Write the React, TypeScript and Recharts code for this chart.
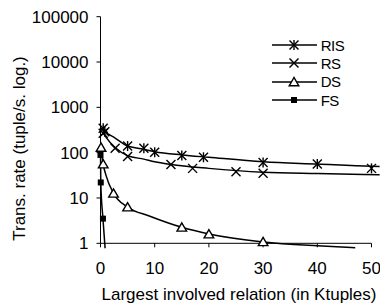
import React from 'react';
import { ComposedChart, Line, Scatter, XAxis, YAxis, Legend } from 'recharts';

const FONT = "'Liberation Sans', Arial, sans-serif";

const xTicks = [0, 10, 20, 30, 40, 50];
const yTicks = [1, 10, 100, 1000, 10000, 100000];
const seriesNames = ['RIS', 'RS', 'DS', 'FS'];
const xTitle = 'Largest involved relation (in Ktuples)';
const yTitle = 'Trans. rate (tuple/s. log.)';

// measured points (markers)
const risX = [0.5, 0.8, 5, 8, 10, 15, 19, 30, 40, 50];
const risY = [345, 290, 140, 125, 102, 87, 79, 61, 56, 45];
const rsX = [0.5, 2.7, 5, 13, 17, 25, 30];
const rsY = [268, 125, 82, 55, 45, 38, 35];
const dsX = [0.1, 0.5, 2.4, 5, 15, 20, 30];
const dsY = [130, 56, 12.7, 6.3, 2.25, 1.6, 1.08];
const fsX = [0, 0.05, 0.45];
const fsY = [89, 22, 3.5];

// trend curves
const risTrendX = [0.3, 1, 2.7, 5, 7.5, 10, 15, 20, 30, 40, 50, 51.5];
const risTrendY = [330, 280, 210, 140, 122, 105, 89, 79, 63, 56, 50, 49.5];
const rsTrendX = [0.5, 1, 2.7, 5, 8, 10, 13, 20, 30, 40, 51.5];
const rsTrendY = [275, 220, 130, 86, 72, 63, 55, 45, 37, 34.5, 32.5];
const dsTrendX = [0.1, 0.5, 1, 2.4, 5, 9, 15, 20, 30, 40, 47];
const dsTrendY = [135, 56, 32, 12.7, 6.3, 4.0, 2.25, 1.6, 1.07, 0.88, 0.8];
const fsTrendX = [0, 0.05, 0.45, 0.85];
const fsTrendY = [110, 22, 3.5, 0.78];

const zip = (xs: number[], ys: number[]) => xs.map((x, i) => ({ x, y: ys[i] }));

const markers = [zip(risX, risY), zip(rsX, rsY), zip(dsX, dsY), zip(fsX, fsY)];
const trends = [
  zip(risTrendX, risTrendY),
  zip(rsTrendX, rsTrendY),
  zip(dsTrendX, dsTrendY),
  zip(fsTrendX, fsTrendY),
];

const drawMarker = (kind: number, cx: number, cy: number, key?: string) => {
  const r = 4.5;
  const sw = 1.4;
  if (kind === 0) {
    return (
      <g key={key} stroke="#000" strokeWidth={sw}>
        <line x1={cx - r} y1={cy - r} x2={cx + r} y2={cy + r} />
        <line x1={cx - r} y1={cy + r} x2={cx + r} y2={cy - r} />
        <line x1={cx} y1={cy - r - 0.5} x2={cx} y2={cy + r + 0.5} />
      </g>
    );
  }
  if (kind === 1) {
    return (
      <g key={key} stroke="#000" strokeWidth={sw}>
        <line x1={cx - r} y1={cy - r} x2={cx + r} y2={cy + r} />
        <line x1={cx - r} y1={cy + r} x2={cx + r} y2={cy - r} />
      </g>
    );
  }
  if (kind === 2) {
    return (
      <polygon
        key={key}
        points={`${cx},${cy - 4.5} ${cx - 4.8},${cy + 3.8} ${cx + 4.8},${cy + 3.8}`}
        fill="#fff"
        stroke="#000"
        strokeWidth={sw}
      />
    );
  }
  return <rect key={key} x={cx - 3} y={cy - 3} width={6} height={6} fill="#000" />;
};

const LegendContent = () => (
  <div style={{ fontFamily: FONT, fontSize: 15, color: '#000', lineHeight: 1 }}>
    {seriesNames.map((n, i) => (
      <div key={n} style={{ display: 'flex', alignItems: 'center', height: 18.3 }}>
        <svg width={45} height={18} style={{ display: 'block' }}>
          <line x1={0} y1={9} x2={45} y2={9} stroke="#000" strokeWidth={1.5} />
          {drawMarker(i, 22, 9)}
        </svg>
        <span style={{ marginLeft: 4, letterSpacing: -0.5 }}>{n}</span>
      </div>
    ))}
  </div>
);

const XTick = (props: any) => (
  <text x={props.x} y={props.y} textAnchor="middle" dy={12} fontFamily={FONT} fontSize={17} fill="#000">
    {props.payload.value}
  </text>
);

const YTick = (props: any) => (
  <text x={props.x} y={props.y} textAnchor="end" dy={6} fontFamily={FONT} fontSize={17} fill="#000">
    {props.payload.value}
  </text>
);

export default function App() {
  return (
    <div style={{ width: 380, height: 307 }}>
      <style>{`body{margin:0} .recharts-surface [clip-path]{clip-path:none !important}`}</style>
      <ComposedChart
        width={380}
        height={307}
        margin={{ top: 16.7, right: 8.5, bottom: 3.7, left: 0 }}
      >
        <XAxis
          type="number"
          dataKey="x"
          domain={[0, 50]}
          ticks={xTicks}
          allowDataOverflow
          height={60}
          tickSize={4}
          tickMargin={15}
          stroke="#000"
          tickLine={{ stroke: '#000' }}
          axisLine={{ stroke: '#000' }}
          tick={<XTick />}
          label={{
            content: (p: any) => {
              const vb = p.viewBox;
              return (
                <text
                  x={vb.x + vb.width / 2 + 3}
                  y={vb.y + 56.7}
                  textAnchor="middle"
                  fontFamily={FONT}
                  fontSize={17}
                  fill="#000"
                >
                  {xTitle}
                </text>
              );
            },
          }}
        />
        <YAxis
          type="number"
          dataKey="y"
          scale="log"
          domain={[1, 100000]}
          ticks={yTicks}
          allowDataOverflow
          width={100.5}
          tickSize={4}
          tickMargin={8}
          stroke="#000"
          tickLine={{ stroke: '#000' }}
          axisLine={{ stroke: '#000' }}
          tick={<YTick />}
          label={{
            content: (p: any) => {
              const vb = p.viewBox;
              const cx = vb.x + 25;
              const cy = vb.y + vb.height / 2 + 18.5;
              return (
                <text
                  x={cx}
                  y={cy}
                  transform={`rotate(-90, ${cx}, ${cy})`}
                  textAnchor="middle"
                  fontFamily={FONT}
                  fontSize={17}
                  fill="#000"
                >
                  {yTitle}
                </text>
              );
            },
          }}
        />
        <Legend
          layout="horizontal"
          verticalAlign="middle"
          align="center"
          content={<LegendContent />}
          wrapperStyle={{ left: 271.7, top: 36, width: 'auto' }}
        />
        {trends.map((d, i) => (
          <Line
            key={'t' + seriesNames[i]}
            data={d}
            dataKey="y"
            type="monotone"
            stroke="#000"
            strokeWidth={1.5}
            dot={false}
            activeDot={false}
            isAnimationActive={false}
          />
        ))}
        {markers.map((d, i) => (
          <Scatter
            key={'m' + seriesNames[i]}
            name={seriesNames[i]}
            data={d}
            dataKey="y"
            isAnimationActive={false}
            shape={(p: any) => drawMarker(i, p.cx, p.cy)}
          />
        ))}
      </ComposedChart>
    </div>
  );
}
